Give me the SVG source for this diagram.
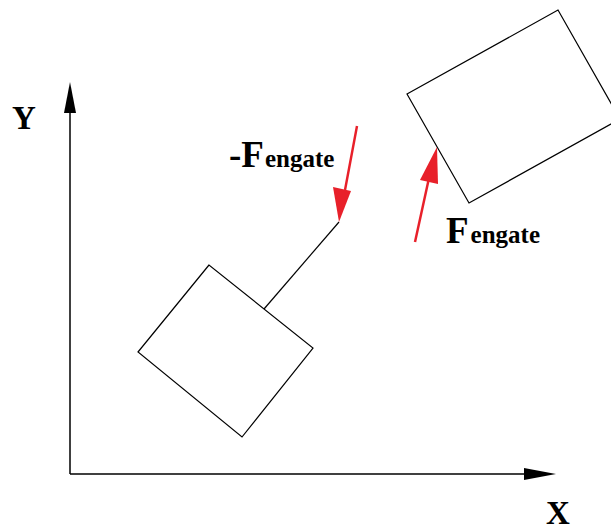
<svg xmlns="http://www.w3.org/2000/svg" width="611" height="531" viewBox="0 0 611 531">
<style>
.box{fill:none;stroke:#000;stroke-width:1.2;stroke-linejoin:miter}
.ax{fill:none;stroke:#000;stroke-width:1.5}
.red{fill:none;stroke:#e8202a;stroke-width:2.5}
.lbl{font-family:"Liberation Serif","Times New Roman",serif;font-weight:bold;fill:#000}
.big{font-size:33px}
.cap{font-size:37px}
.sub{font-size:25px}
</style>
<rect width="611" height="531" fill="#fff"/>
<g id="axes">
<line class="ax" x1="70" y1="474" x2="70" y2="112"/>
<polygon points="70,82 64,113 76,113" fill="#000"/>
<line class="ax" x1="70" y1="474" x2="525" y2="474"/>
<polygon points="556,474 524,468 524,480" fill="#000"/>
<text class="lbl big" x="12" y="129">Y</text>
<text class="lbl big" x="546" y="524">X</text>
</g>
<g id="box1">
<polygon class="box" points="209,265 138,352 242,437 313,348"/>
</g>
<g id="box2">
<polygon class="box" points="407,94 558,10 620,119 469,203"/>
</g>
<g id="connectors">
<line x1="264" y1="309" x2="339" y2="222" stroke="#000" stroke-width="1.2"/>
<line class="red" x1="357" y1="126" x2="345" y2="190"/>
<polygon points="339,222 333,187 351,191" fill="#e8202a"/>
<line class="red" x1="415" y1="242" x2="429" y2="178"/>
<polygon points="437,147 420,180 438,184" fill="#e8202a"/>
</g>
<g id="labels">
<text class="lbl" x="229" y="167"><tspan class="cap">-F</tspan><tspan class="sub" dx="1">engate</tspan></text>
<text class="lbl" x="446" y="243"><tspan class="cap">F</tspan><tspan class="sub" dx="2">engate</tspan></text>
</g>
</svg>
